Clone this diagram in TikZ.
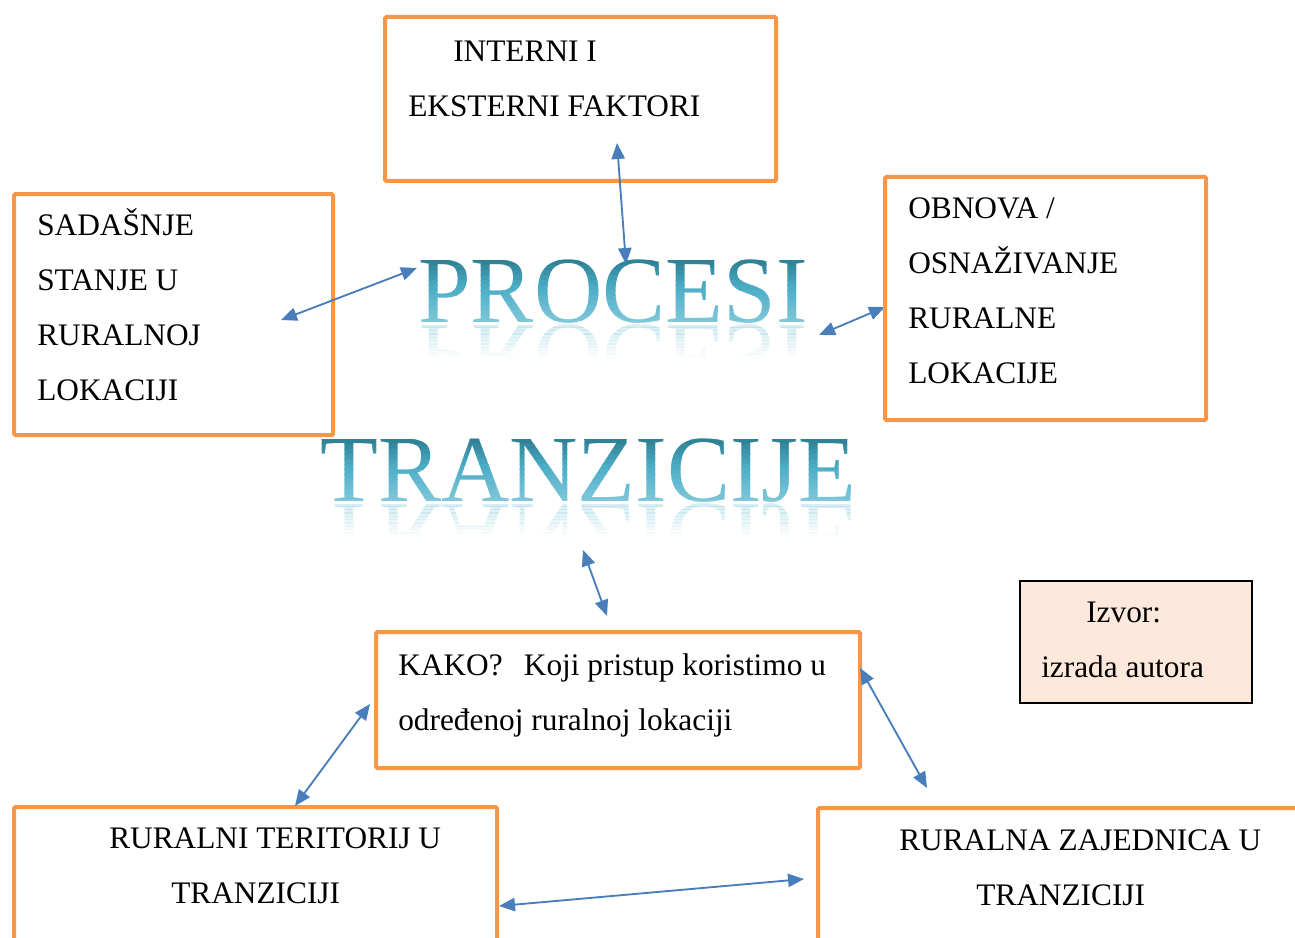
\documentclass[tikz,border=0pt]{standalone}
\usepackage{fontspec}
\setmainfont{Liberation Serif}
\usetikzlibrary{arrows.meta,fit}
\definecolor{oorange}{HTML}{F79646}
\definecolor{ablue}{HTML}{4A7EBB}
\definecolor{tdark}{HTML}{2B7B8D}
\definecolor{tmid}{HTML}{4BACC6}
\definecolor{tlight}{HTML}{80C8D9}
\definecolor{peach}{HTML}{FDE9DB}
\tikzset{
  obox/.style={draw=oorange, line width=3pt, inner sep=0pt, rounded corners=1pt},
  sbox/.style={draw=black, line width=1.1pt, fill=peach, inner sep=0pt},
  lbl/.style={anchor=base west, inner sep=0pt, font=\fontsize{23.5}{28}\selectfont, text=black},
  bigword/.style={anchor=base west, inner sep=0pt, font=\fontsize{71}{80}\selectfont},
  link/.style={draw=ablue, line width=1.4pt, {Triangle[length=12pt,width=10pt]}-{Triangle[length=12pt,width=10pt]}},
}
\newcommand{\gradword}[4]{%
  \foreach \i in {0,...,13}{%
    \pgfmathsetmacro{\ya}{#3-67+\i*5}%
    \ifnum\i=13 \pgfmathsetmacro{\yb}{#3+30}\else \pgfmathsetmacro{\yb}{#3-67+\i*5+5.6}\fi
    \pgfmathsetmacro{\pa}{min(100,\i*100/6)}%
    \pgfmathsetmacro{\pb}{max(0,(\i-6)*100/7)}%
    \colorlet{bandc}{tmid!\pa!tdark}%
    \colorlet{bandc}{tlight!\pb!bandc}%
    \begin{scope}
      \clip (#2-10,\ya) rectangle (#2+600,\yb);
      \node[bigword, text=bandc] (#1\i) at (#2,#3) {#4};
    \end{scope}
  }%
}
\newcommand{\reflword}[4]{%
  \foreach \j in {0,...,9}{%
    \pgfmathsetmacro{\ya}{#3+2+\j*3.3}%
    \pgfmathsetmacro{\yb}{#3+2+\j*3.3+3.6}%
    \pgfmathsetmacro{\op}{0.3*(1-\j/10)}%
    \begin{scope}
      \clip (#2-10,\ya) rectangle (#2+600,\yb);
      \node[bigword, text=tlight, text opacity=\op, yscale=-1] (#1r\j) at (#2,#3+3) {#4};
    \end{scope}
  }%
}
\begin{document}
\begin{tikzpicture}[x=0.75pt, y=-0.75pt]
\useasboundingbox (0,0) rectangle (1295,938);
\clip (0,0) rectangle (1295,938);

% big title
\gradword{pw}{418}{322}{PROCESI}
\reflword{pw}{418}{322}{PROCESI}
\gradword{tw}{320}{501}{TRANZICIJE}
\reflword{tw}{320}{501}{TRANZICIJE}

% connector end points
\coordinate (a1s) at (617,143);
\coordinate (a1e) at (626,264);
\coordinate (a2s) at (281,320);
\coordinate (a2e) at (417,268);
\coordinate (a3s) at (819,335);
\coordinate (a3e) at (885,307);
\coordinate (a4s) at (583,550);
\coordinate (a4e) at (607,616);
\coordinate (a5s) at (370,704);
\coordinate (a5e) at (295,806);
\coordinate (a6s) at (860,668);
\coordinate (a6e) at (927,788);
\coordinate (a7s) at (499,906);
\coordinate (a7e) at (804,879);

\draw[link] (a3s) -- (a3e);

% boxes
\node[obox, fit={(385,17)(776,181)}] (b1) {};
\node[obox, fit={(14,194)(333,435)}] (b2) {};
\node[obox, fit={(885,177)(1206,420)}] (b3) {};
\node[obox, fit={(376,632)(860,768)}] (b4) {};
\node[obox, fit={(14,807)(497,970)}] (b5) {};
\node[obox, fit={(818,808)(1330,970)}] (b6) {};
\node[sbox, fit={(1020,581)(1252,703)}] (b7) {};

% texts
\node[lbl] (t1a) at (453,62) {INTERNI I};
\node[lbl] (t1b) at (408,117) {EKSTERNI FAKTORI};

\node[lbl] (t2a) at (37,235) {SADAŠNJE};
\node[lbl] (t2b) at (37,290) {STANJE U};
\node[lbl] (t2c) at (37,345) {RURALNOJ};
\node[lbl] (t2d) at (37,400) {LOKACIJI};

\node[lbl] (t3a) at (908,218) {OBNOVA /};
\node[lbl] (t3b) at (908,273) {OSNAŽIVANJE};
\node[lbl] (t3c) at (908,328) {RURALNE};
\node[lbl] (t3d) at (908,383) {LOKACIJE};

\node[lbl] (t4a) at (398,675) {KAKO?\hspace{0.68em}Koji pristup koristimo u};
\node[lbl] (t4b) at (398,730) {određenoj ruralnoj lokaciji};

\node[lbl] (t5a) at (109,848) {RURALNI TERITORIJ U};
\node[lbl] (t5b) at (171,903) {TRANZICIJI};

\node[lbl] (t6a) at (899,850) {RURALNA ZAJEDNICA U};
\node[lbl] (t6b) at (976,905) {TRANZICIJI};

\node[lbl] (t7a) at (1086,622) {Izvor:};
\node[lbl] (t7b) at (1041,677) {izrada autora};

% connectors
\draw[link] (a1s) -- (a1e);
\draw[link] (a2s) -- (a2e);
\draw[link] (a4s) -- (a4e);
\draw[link] (a5s) -- (a5e);
\draw[link] (a6s) -- (a6e);
\draw[link] (a7s) -- (a7e);
\end{tikzpicture}
\end{document}
